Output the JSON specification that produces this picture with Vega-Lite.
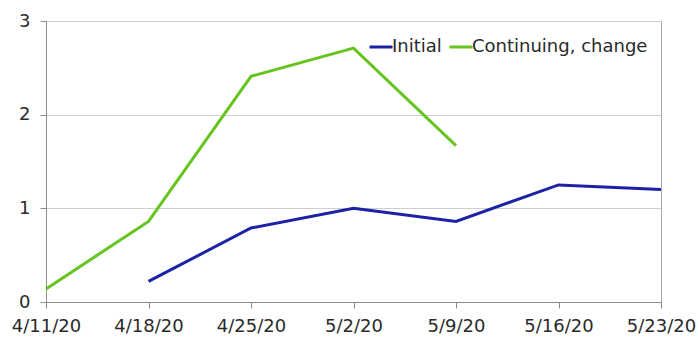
{
  "$schema": "https://vega.github.io/schema/vega-lite/v6.json",
  "autosize": {"type": "none"},
  "width": 615,
  "height": 281,
  "padding": {"left": 46, "top": 21, "right": 38, "bottom": 35},
  "background": "white",
  "config": {
    "font": "DejaVu Sans",
    "view": {"stroke": "#a6a6a6", "strokeWidth": 1}
  },
  "data": {
    "values": [
      {"week": "4/11/20", "series": "Continuing, change", "value": 0.14},
      {"week": "4/18/20", "series": "Continuing, change", "value": 0.86},
      {"week": "4/25/20", "series": "Continuing, change", "value": 2.41},
      {"week": "5/2/20", "series": "Continuing, change", "value": 2.71},
      {"week": "5/9/20", "series": "Continuing, change", "value": 1.67},
      {"week": "4/18/20", "series": "Initial", "value": 0.22},
      {"week": "4/25/20", "series": "Initial", "value": 0.79},
      {"week": "5/2/20", "series": "Initial", "value": 1.0},
      {"week": "5/9/20", "series": "Initial", "value": 0.86},
      {"week": "5/16/20", "series": "Initial", "value": 1.25},
      {"week": "5/23/20", "series": "Initial", "value": 1.2}
    ]
  },
  "mark": {"type": "line", "strokeWidth": 3, "strokeJoin": "miter"},
  "encoding": {
    "x": {
      "field": "week",
      "type": "ordinal",
      "scale": {
        "type": "point",
        "padding": 0,
        "domain": ["4/11/20", "4/18/20", "4/25/20", "5/2/20", "5/9/20", "5/16/20", "5/23/20"]
      },
      "axis": {
        "title": null,
        "labelAngle": 0,
        "labelFont": "DejaVu Sans",
        "labelFontSize": 18,
        "labelColor": "#2a2a2a",
        "labelPadding": 9,
        "labelOverlap": false,
        "domainColor": "#8c8c8c",
        "tickColor": "#8c8c8c",
        "tickSize": 6,
        "grid": false
      }
    },
    "y": {
      "field": "value",
      "type": "quantitative",
      "scale": {"domain": [0, 3], "nice": false},
      "axis": {
        "title": null,
        "values": [0, 1, 2, 3],
        "format": "d",
        "labelFont": "DejaVu Sans",
        "labelFontSize": 18,
        "labelColor": "#2a2a2a",
        "labelPadding": 10,
        "domainColor": "#8c8c8c",
        "tickColor": "#8c8c8c",
        "tickSize": 6,
        "grid": true,
        "gridColor": "#cfcfcf",
        "gridWidth": 1
      }
    },
    "color": {
      "field": "series",
      "type": "nominal",
      "scale": {
        "domain": ["Initial", "Continuing, change"],
        "range": ["#1c22a6", "#66c41e"]
      },
      "legend": {
        "title": null,
        "orient": "none",
        "legendX": 322,
        "legendY": 13,
        "direction": "horizontal",
        "symbolType": "stroke",
        "symbolSize": 529,
        "symbolStrokeWidth": 3,
        "labelFont": "DejaVu Sans",
        "labelFontSize": 18,
        "labelColor": "#2a2a2a",
        "labelLimit": 300,
        "labelOffset": -2,
        "columnPadding": 1,
        "symbolOffset": 0
      }
    }
  }
}
